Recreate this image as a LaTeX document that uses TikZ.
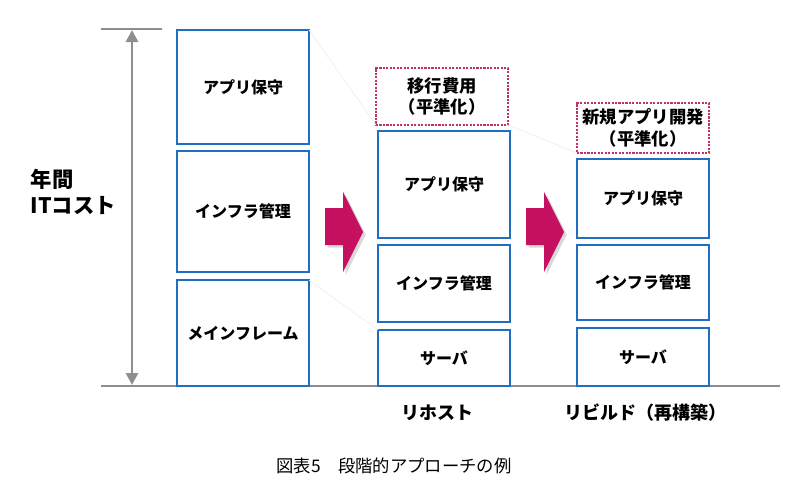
\documentclass[tikz,border=0pt]{standalone}
\usepackage{fontspec}
\usepackage{xcolor}
\usepackage{tikz}
\usetikzlibrary{arrows.meta, shadows}
\newfontfamily\jpfont{Noto Sans CJK JP}
\definecolor{boxblue}{HTML}{1F6EBF}
\definecolor{crimson}{HTML}{C4105F}
\definecolor{dotpink}{HTML}{C0306A}
\definecolor{axisgray}{HTML}{8E8E8E}

\begin{document}
\begin{tikzpicture}[x=0.75pt,y=-0.75pt,
  cost/.style 2 args={draw=boxblue,line width=1.5pt,inner sep=0pt,outer sep=0pt,
    minimum width=#1*0.75pt,minimum height=#2*0.75pt,
    font=\jpfont\bfseries\fontsize{12}{14}\selectfont},
  extra/.style 2 args={draw=dotpink,line width=1.6pt,densely dotted,inner sep=0pt,
    outer sep=0pt,minimum width=#1*0.75pt,minimum height=#2*0.75pt,align=center,
    font=\jpfont\bfseries\fontsize{13}{16}\selectfont},
  guide/.style={draw=black!7,line width=0.5pt},
  step arrow/.style={fill=crimson,drop shadow={opacity=0.3,shadow xshift=2pt,shadow yshift=-2pt}}]
\useasboundingbox (0,0) rectangle (810,497);
% Axis
\draw[axisgray,line width=1.4pt] (101,29) -- (162,29);
\draw[axisgray,line width=1.4pt] (101,386) -- (780,386);
\draw[axisgray,line width=2pt,{Triangle[width=9pt,length=9pt]}-{Triangle[width=9pt,length=9pt]}]
  (132,30) -- (132,385);
\node[anchor=west,align=left,font=\jpfont\bfseries\fontsize{16}{19}\selectfont]
  (yl) at (26,192) {年間\\ITコスト};
% Mainframe stack
\node[cost={132}{114}] (a1) at (243,87) {アプリ保守};
\node[cost={132}{121}] (b1) at (243,211.5) {インフラ管理};
\node[cost={132}{106}] (c1) at (243,333) {メインフレーム};
% Rehost stack
\node[extra={132}{57}] (m2) at (442,96.5) {移行費用\\（平準化）};
\node[cost={132}{107}] (a2) at (444,184.5) {アプリ保守};
\node[cost={132}{77}] (b2) at (444,283.5) {インフラ管理};
\node[cost={132}{56}] (c2) at (444,358) {サーバ};
% Rebuild stack
\node[extra={132}{50}] (m3) at (643,128) {新規アプリ開発\\（平準化）};
\node[cost={132}{79}] (a3) at (643,198) {アプリ保守};
\node[cost={132}{75}] (b3) at (643,282.5) {インフラ管理};
\node[cost={132}{58}] (c3) at (643,357) {サーバ};
% Faint guide lines
\draw[guide] (a1.north east) -- (m2.south west);
\draw[guide] (c1.north east) -- (c2.north west);
\draw[guide] (m2.south east) -- (m3.south west);
% Step arrows
\foreach \dx in {0,201}
  \fill[step arrow,xshift=\dx*0.75pt] (325,208) -- (343,208) -- (343,192) -- (363,232)
    -- (343,272) -- (343,245) -- (325,245) -- cycle;
% Column titles and caption
\node[font=\jpfont\bfseries\fontsize{13.5}{16}\selectfont] (t2) at (437,413) {リホスト};
\node[font=\jpfont\bfseries\fontsize{13.5}{16}\selectfont] (t3) at (645,413) {リビルド（再構築）};
\node[font=\jpfont\fontsize{13}{16}\selectfont] (cap) at (394,466) {図表5　段階的アプローチの例};
\end{tikzpicture}
\end{document}
